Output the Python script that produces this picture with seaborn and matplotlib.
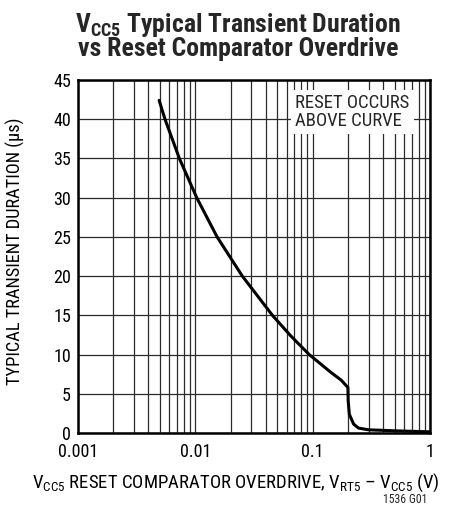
import numpy as np
import pandas as pd
import matplotlib
matplotlib.use("Agg")
import matplotlib.pyplot as plt
import matplotlib.ticker as mticker
from matplotlib import font_manager
import seaborn as sns

# curve (overdrive in V, duration in us)
overdrive_v = [0.00493, 0.00553, 0.00733, 0.0103, 0.01536, 0.0252, 0.0455,
               0.065, 0.0936, 0.144, 0.175, 0.2, 0.201, 0.2055, 0.2236,
               0.246, 0.299, 0.504, 1.0]
duration_us = [42.4, 40.0, 35.0, 30.0, 25.0, 20.0, 15.0,
               12.4, 10.0, 7.7, 6.75, 5.8, 4.1, 2.4, 1.14,
               0.63, 0.41, 0.28, 0.15]

x_ticks = [0.001, 0.01, 0.1, 1]
x_tick_labels = ["0.001", "0.01", "0.1", "1"]
y_ticks = list(range(0, 50, 5))

# pick a condensed sans if one is around, like the datasheet font
installed = {f.name for f in font_manager.fontManager.ttflist}
font = "Liberation Sans"
for cand in ["Liberation Sans Narrow", "Nimbus Sans Narrow", "Roboto Condensed",
             "Archivo Narrow", "PT Sans Narrow", "Pragati Narrow"]:
    if cand in installed:
        font = cand
        break

sns.set_theme(style="white")
plt.rcParams["font.family"] = [font, "DejaVu Sans"]
plt.rcParams["mathtext.fontset"] = "custom"
plt.rcParams["mathtext.rm"] = font
plt.rcParams["mathtext.bf"] = font + ":bold"

df = pd.DataFrame({"x": overdrive_v, "y": duration_us})

fig = plt.figure(figsize=(4.55, 5.08), dpi=100)
ax = fig.add_axes([0.171, 0.1476, 0.774, 0.695])

sns.lineplot(data=df, x="x", y="y", ax=ax, color="black", linewidth=2.2, zorder=5)

ax.set_xscale("log")
ax.set_xlim(0.001, 1)
ax.set_ylim(0, 45)
ax.set_xticks(x_ticks)
ax.set_xticklabels(x_tick_labels)
ax.xaxis.set_minor_locator(mticker.LogLocator(base=10, subs=np.arange(2, 10)))
ax.xaxis.set_minor_formatter(mticker.NullFormatter())
ax.set_yticks(y_ticks)
ax.tick_params(axis="both", which="both", length=0, labelsize=13, colors="black")
ax.tick_params(axis="x", pad=7)
ax.tick_params(axis="y", pad=5)

ax.grid(which="both", axis="x", color="#2a2a2a", linewidth=0.9)
ax.grid(which="major", axis="y", color="#2a2a2a", linewidth=0.9)
for s in ax.spines.values():
    s.set_color("black")
    s.set_linewidth(1.8)

ax.set_xlabel(r"$\mathregular{V_{CC5}}$ RESET COMPARATOR OVERDRIVE, "
              r"$\mathregular{V_{RT5}}$ – $\mathregular{V_{CC5}}$ (V)",
              fontsize=13.5, color="black")
ax.xaxis.set_label_coords(0.448, -0.11)
ax.set_ylabel("TYPICAL TRANSIENT DURATION (µs)", fontsize=13.2, color="black")
ax.yaxis.set_label_coords(-0.15, 0.515)

fig.text(0.523, 0.978, r"$\mathregular{V_{CC5}}$ Typical Transient Duration" "\n"
         "vs Reset Comparator Overdrive",
         ha="center", va="top", fontsize=18.5, fontweight="bold", linespacing=0.9)

ax.text(0.618, 0.96, "RESET OCCURS\nABOVE CURVE", transform=ax.transAxes,
        ha="left", va="top", fontsize=13.5, linespacing=1.0, zorder=6,
        bbox=dict(facecolor="white", edgecolor="none", pad=3))

fig.text(0.94, 0.004, "1536 G01", ha="right", va="bottom", fontsize=8.5)

fig.savefig("out.png", dpi=100)
